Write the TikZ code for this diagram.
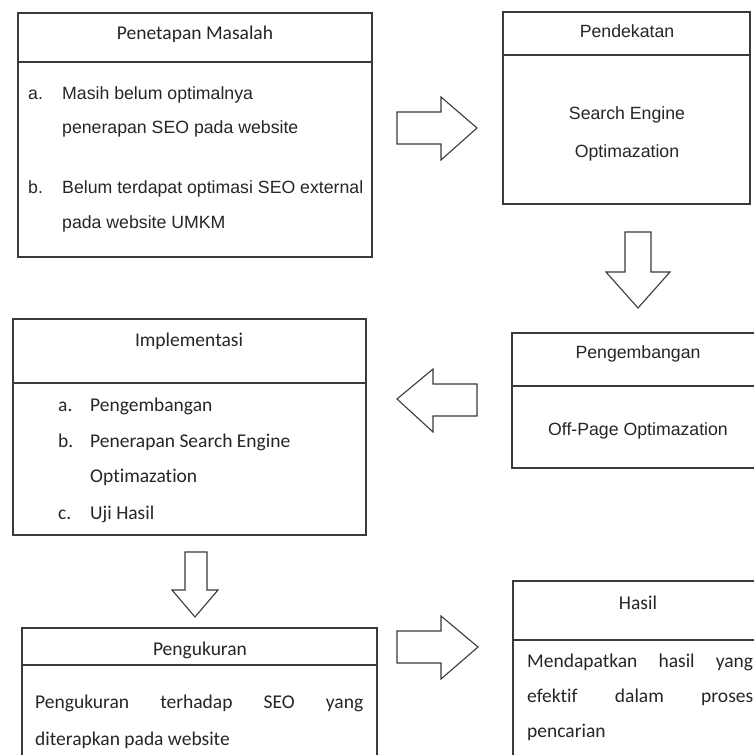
\documentclass[tikz,border=0pt]{standalone}
\usepackage{fontspec}
\newfontfamily\arialf{Liberation Sans}
\newfontfamily\calibf[Ligatures={NoCommon}]{Carlito}
\definecolor{ln}{HTML}{3A3A3A}
\definecolor{txt}{HTML}{262626}
\tikzset{
  boxline/.style={draw=ln, line width=1.3pt},
  blockarrow/.style={draw=ln, line width=1.1pt, line join=miter, fill=white},
  ar/.style={font=\arialf\fontsize{17.7}{21}\selectfont, text=txt, inner sep=0pt},
  cb/.style={font=\calibf\fontsize{19.5}{23}\selectfont, text=txt, inner sep=0pt},
}
\begin{document}
\begin{tikzpicture}[x=1pt,y=-1pt]
\useasboundingbox (0,0) rectangle (754,755);
\fill[white] (0,0) rectangle (754,755);
\begin{scope}
\clip (0,0) rectangle (754,755);
% Box 1: Penetapan Masalah
\draw[boxline] (18,13) rectangle (372,257);
\draw[boxline] (18,62) -- (372,62);
\node[cb, anchor=base] (t1) at (195,39) {Penetapan Masalah};
\node[ar, anchor=base west] (a1) at (28,99) {a.};
\node[ar, anchor=base west] (a1t) at (62,99) {Masih belum optimalnya};
\node[ar, anchor=base west] (a1u) at (62,133) {penerapan SEO pada website};
\node[ar, anchor=base west] (b1) at (28,193) {b.};
\node[ar, anchor=base west] (b1t) at (62,193) {Belum terdapat optimasi SEO external};
\node[ar, anchor=base west] (b1u) at (62,228) {pada website UMKM};

% Box 2: Pendekatan
\draw[boxline] (503,12) rectangle (750,204);
\draw[boxline] (503,55) -- (750,55);
\node[ar, anchor=base] (t2) at (627,37) {Pendekatan};
\node[ar, anchor=base] (s2a) at (627,119) {Search Engine};
\node[ar, anchor=base] (s2b) at (627,157) {Optimazation};

% Box 3: Implementasi
\draw[boxline] (13,319) rectangle (366,535);
\draw[boxline] (13,383) -- (366,383);
\node[cb, anchor=base] (t3) at (189,346) {Implementasi};
\node[cb, anchor=base west] (i3a) at (58,411) {a.};
\node[cb, anchor=base west] (i3at) at (90,411) {Pengembangan};
\node[cb, anchor=base west] (i3b) at (58,447) {b.};
\node[cb, anchor=base west] (i3bt) at (90,447) {Penerapan Search Engine};
\node[cb, anchor=base west] (i3bu) at (90,482) {Optimazation};
\node[cb, anchor=base west] (i3c) at (58,519) {c.};
\node[cb, anchor=base west] (i3ct) at (90,519) {Uji Hasil};

% Box 4: Pengembangan
\draw[boxline] (770,333) -- (512,333) -- (512,468) -- (770,468);
\draw[boxline] (512,386) -- (770,386);
\node[ar, anchor=base] (t4) at (638,358) {Pengembangan};
\node[ar, anchor=base] (o4) at (638,435) {Off-Page Optimazation};

% Box 5: Pengukuran
\draw[boxline] (22,770) -- (22,628) -- (377,628) -- (377,770);
\draw[boxline] (22,665) -- (377,665);
\node[cb, anchor=base] (t5) at (200,655) {Pengukuran};
\node[cb, anchor=base west] (p5a) at (35,708) {\makebox[328pt][s]{Pengukuran terhadap SEO yang}};
\node[cb, anchor=base west] (p5b) at (35,745) {diterapkan pada website};

% Box 6: Hasil
\draw[boxline] (770,581) -- (513,581) -- (513,770);
\draw[boxline] (513,640) -- (770,640);
\node[cb, anchor=base] (t6) at (638,609) {Hasil};
\node[cb, anchor=base west] (h6a) at (527,667) {\makebox[226pt][s]{Mendapatkan hasil yang}};
\node[cb, anchor=base west] (h6b) at (527,702) {\makebox[226pt][s]{efektif dalam proses}};
\node[cb, anchor=base west] (h6c) at (527,737) {pencarian};

% Block arrows
\draw[blockarrow] (397,112) -- (441,112) -- (441,97) -- (477,128) -- (441,160) -- (441,144) -- (397,144) -- cycle;
\draw[blockarrow] (625,232) -- (651,232) -- (651,272) -- (670,272) -- (638,308) -- (606,272) -- (625,272) -- cycle;
\draw[blockarrow] (477,384) -- (433,384) -- (433,369) -- (397,399) -- (433,432) -- (433,416) -- (477,416) -- cycle;
\draw[blockarrow] (185,552) -- (207,552) -- (207,590) -- (218,590) -- (195,617) -- (172,590) -- (185,590) -- cycle;
\draw[blockarrow] (397,631) -- (441,631) -- (441,616) -- (478,647) -- (441,679) -- (441,663) -- (397,663) -- cycle;
\end{scope}
\end{tikzpicture}
\end{document}
